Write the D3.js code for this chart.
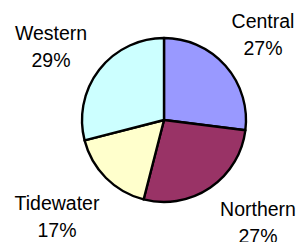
<!DOCTYPE html>
<html>
<head>
    <meta charset="utf-8">
    <script src="https://d3js.org/d3.v7.min.js"></script>
    <style>
        body { margin: 0; background: #fff; }
        text { font-family: "Liberation Sans", Arial, sans-serif; font-size: 19.5px; fill: #000; }
    </style>
</head>
<body>
    <svg id="chart" width="303" height="242"></svg>
    <script>
        const regions = ['Central', 'Northern', 'Tidewater', 'Western'];
        const shares = [27, 27, 17, 29];
        const colors = ['#9999FF', '#993366', '#FFFFCC', '#CCFFFF'];
        // label anchor points (centre x, baseline of first line)
        const labelX = [263, 258, 57, 51];
        const labelY = [28, 216, 210, 40];

        const svg = d3.select("#chart");
        const cx = 164, cy = 120, r = 82;

        const pie = d3.pie().sort(null).value(d => d);
        const arc = d3.arc().innerRadius(0).outerRadius(r);

        const g = svg.append("g").attr("transform", `translate(${cx},${cy})`);
        g.selectAll("path")
            .data(pie(shares))
            .enter().append("path")
            .attr("d", arc)
            .attr("fill", (d, i) => colors[i])
            .attr("stroke", "#000")
            .attr("stroke-width", 2.4)
            .attr("stroke-linejoin", "round");

        const labels = svg.selectAll("text.lbl")
            .data(regions)
            .enter().append("text")
            .attr("class", "lbl")
            .attr("text-anchor", "middle");
        labels.append("tspan")
            .attr("x", (d, i) => labelX[i])
            .attr("y", (d, i) => labelY[i])
            .text(d => d);
        labels.append("tspan")
            .attr("x", (d, i) => labelX[i])
            .attr("y", (d, i) => labelY[i] + 26.5)
            .text((d, i) => shares[i] + "%");
    </script>
</body>
</html>
